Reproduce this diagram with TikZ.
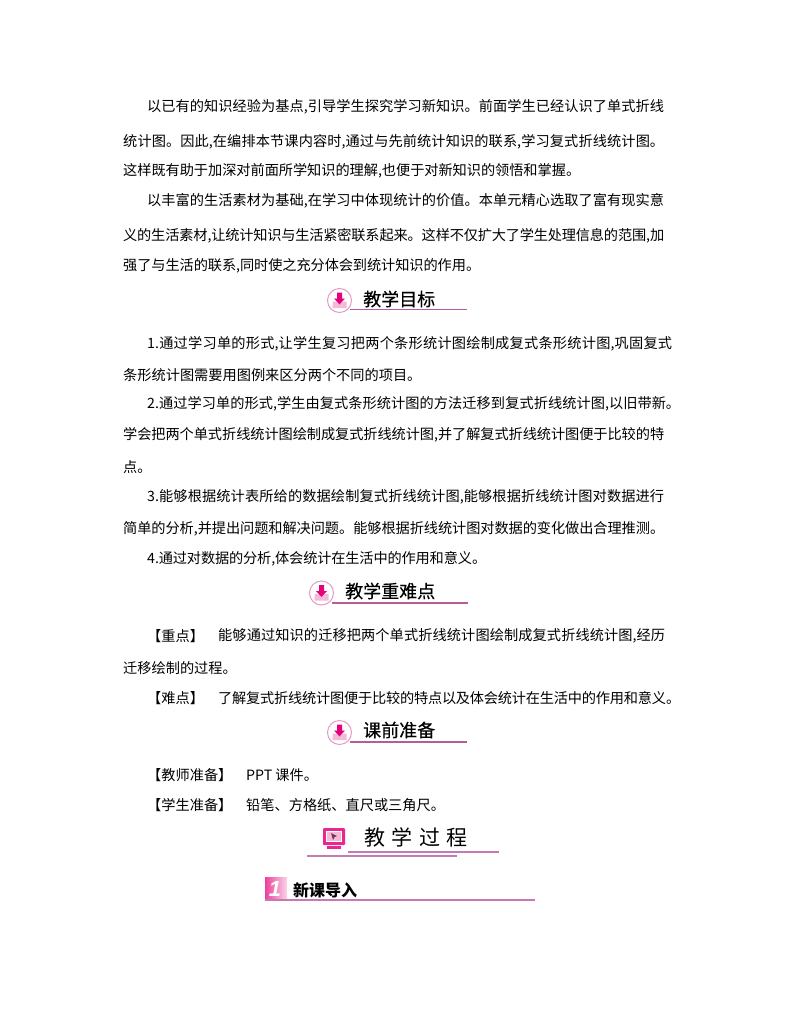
\documentclass[tikz,border=0pt]{standalone}
\usepackage{fontspec}
\setmainfont{Noto Sans CJK SC}
\newfontfamily\headfont[FakeBold=0.3]{Noto Sans CJK SC}
\newfontfamily\numfont{Liberation Sans}
\XeTeXlinebreaklocale "zh"
\XeTeXlinebreakskip=0pt plus 3pt minus 1pt
\tolerance=10000
\newcommand{\fitline}[2]{\parbox{#1pt}{\parindent=0pt\parfillskip=0pt\relax #2\par}}
\definecolor{rulepink}{HTML}{B65A9C}
\definecolor{badgepink}{HTML}{E6007E}
\definecolor{softpink}{HTML}{F4BBD6}
\tikzset{
  body/.style={anchor=west, inner sep=0pt, font=\fontsize{14.2}{14.2}\selectfont},
  headtext/.style={anchor=west, inner sep=0pt, font=\fontsize{18}{18}\selectfont\headfont},
  headrule/.style={draw=rulepink, line width=1.4pt},
  badge/.pic={
    \draw[softpink!70!rulepink, fill=white, line width=1pt] (0,0) circle (12);
    \fill[softpink] (-7,1) -- (-4,1) -- (0,3.5) -- (4,1) -- (7,1) -- (7,7.5) -- (-7,7.5) -- cycle;
    \fill[badgepink] (-2.5,-8) rectangle (2.5,-2) (-5.5,-2) -- (5.5,-2) -- (0,4) -- cycle;
  }
}
\begin{document}
\begin{tikzpicture}[x=1pt, y=-1pt]
  \useasboundingbox[fill=white] (0,0) rectangle (800,1028);
  % first block
  \node[body] (la) at (147,107) {\fitline{517}{以已有的知识经验为基点,引导学生探究学习新知识。前面学生已经认识了单式折线}};
  \node[body] (lb) at (123,142) {\fitline{541}{统计图。因此,在编排本节课内容时,通过与先前统计知识的联系,学习复式折线统计图。}};
  \node[body] (lc) at (123,171) {\fitline{457}{这样既有助于加深对前面所学知识的理解,也便于对新知识的领悟和掌握。}};
  \node[body] (ld) at (147,201) {\fitline{517}{以丰富的生活素材为基础,在学习中体现统计的价值。本单元精心选取了富有现实意}};
  \node[body] (le) at (123,236) {\fitline{541}{义的生活素材,让统计知识与生活紧密联系起来。这样不仅扩大了学生处理信息的范围,加}};
  \node[body] (lf) at (123,266) {\fitline{357}{强了与生活的联系,同时使之充分体会到统计知识的作用。}};
  % goals
  \draw[headrule] (350,309.5) -- (467,309.5);
  \pic at (339.5,300.5) {badge};
  \node[headtext] (goal) at (363,299) {教学目标};
  \node[body] (ga) at (147,344) {\fitline{525}{1.通过学习单的形式,让学生复习把两个条形统计图绘制成复式条形统计图,巩固复式}};
  \node[body] (gb) at (123,375) {条形统计图需要用图例来区分两个不同的项目。};
  \node[body] (gc) at (147,404) {\fitline{533}{2.通过学习单的形式,学生由复式条形统计图的方法迁移到复式折线统计图,以旧带新。}};
  \node[body] (gd) at (123,435) {\fitline{541}{学会把两个单式折线统计图绘制成复式折线统计图,并了解复式折线统计图便于比较的特}};
  \node[body] (ge) at (123,467) {点。};
  \node[body] (gf) at (147,497) {\fitline{517}{3.能够根据统计表所给的数据绘制复式折线统计图,能够根据折线统计图对数据进行}};
  \node[body] (gg) at (123,529) {\fitline{541}{简单的分析,并提出问题和解决问题。能够根据折线统计图对数据的变化做出合理推测。}};
  \node[body] (gh) at (147,559) {\fitline{339}{4.通过对数据的分析,体会统计在生活中的作用和意义。}};
  % key points
  \draw[headrule] (332,603) -- (468,603);
  \pic at (321.5,593) {badge};
  \node[headtext] (key) at (345,591) {教学重难点};
  \node[body] (ka) at (147,636) {【重点】};
  \node[body] (kat) at (218,636) {\fitline{447}{能够通过知识的迁移把两个单式折线统计图绘制成复式折线统计图,经历}};
  \node[body] (kb) at (123,668) {迁移绘制的过程。};
  \node[body] (kc) at (147,698) {【难点】};
  \node[body] (kct) at (218,698) {\fitline{462}{了解复式折线统计图便于比较的特点以及体会统计在生活中的作用和意义。}};
  % preparation
  \draw[headrule] (350,742) -- (467,742);
  \pic at (339.5,732.5) {badge};
  \node[headtext] (prep) at (363,730) {课前准备};
  \node[body] (pa) at (147,775) {【教师准备】};
  \node[body] (pat) at (246,775) {PPT 课件。};
  \node[body] (pb) at (147,805) {【学生准备】};
  \node[body] (pbt) at (246,805) {铅笔、方格纸、直尺或三角尺。};
  % process
  \fill[badgepink!85!white, rounded corners=1pt] (323,828) rectangle (345,845);
  \fill[white] (326,831) rectangle (342,842);
  \fill[softpink] (327,832) rectangle (341,841);
  \fill[rulepink!60!black] (331,833) -- (337,836) -- (334.5,837) -- (333,840) -- cycle;
  \fill[badgepink!85!white] (327,846) rectangle (341,849);
  \draw[headrule, draw=rulepink!80!white] (348,852) -- (499,852);
  \draw[headrule, draw=rulepink!80!white] (307,856) -- (457,856);
  \node[anchor=west, inner sep=0pt, font=\fontsize{21}{21}\selectfont] (proc) at (364,837) {教\hspace{6.5pt}学\hspace{6.5pt}过\hspace{6.5pt}程};
  % lesson
  \shade[left color=badgepink!75!white, right color=softpink!60!white] (265,877) rectangle (287,900);
  \draw[headrule, draw=rulepink!80!white] (265,900) -- (535,900);
  \node[inner sep=0pt, text=white, font=\fontsize{22}{22}\selectfont\numfont\bfseries\itshape] (num) at (275,889) {1};
  \node[anchor=west, inner sep=0pt, font=\fontsize{16}{16}\selectfont\bfseries] (intro) at (293,890) {新课导入};
\end{tikzpicture}
\end{document}
